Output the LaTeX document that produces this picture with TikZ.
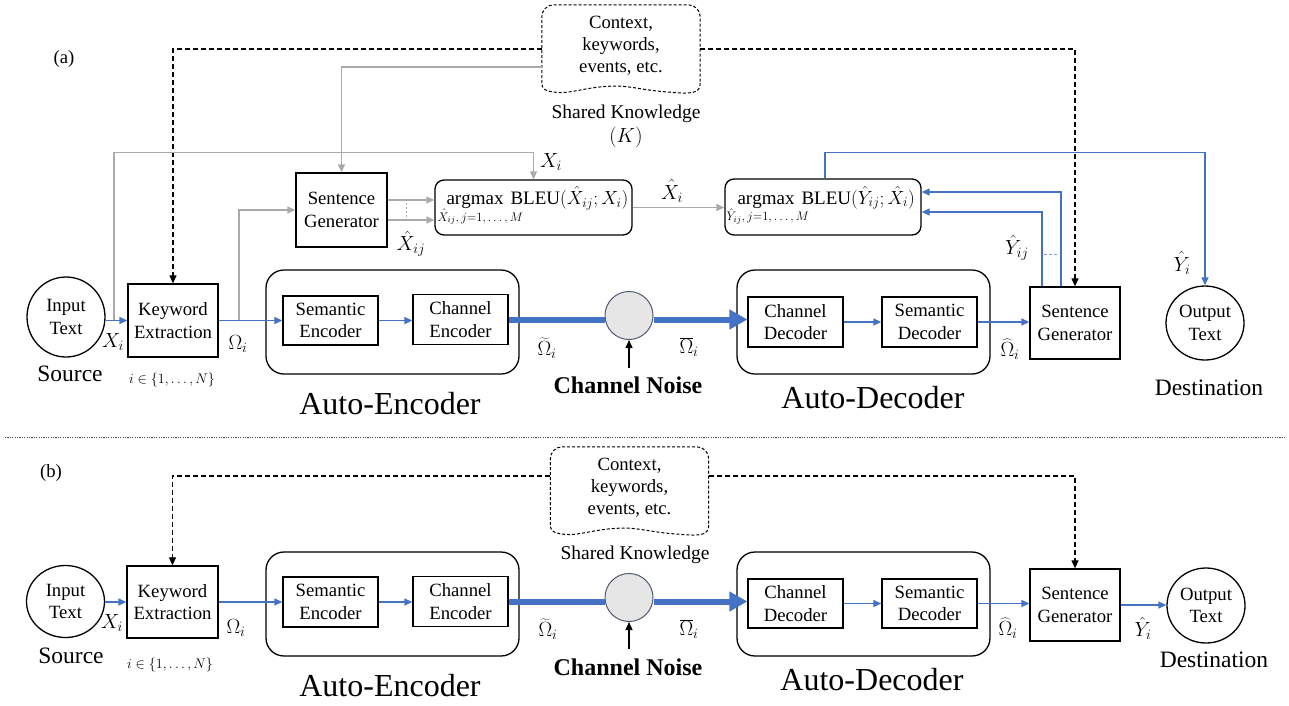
\RequirePackage{fix-cm}
\documentclass[tikz,border=0pt]{standalone}
\usepackage{fontspec}
\setmainfont{Liberation Serif}
\usetikzlibrary{arrows.meta,calc,shapes.geometric}
\definecolor{arrblue}{RGB}{68,114,196}
\definecolor{arrgray}{RGB}{170,170,170}
\definecolor{noisefill}{RGB}{230,230,230}
\definecolor{noisedraw}{RGB}{80,90,110}
\newcommand{\fs}[2]{\fontsize{#1}{#2}\selectfont}
\newcommand{\cloudpath}[1]{%
  \draw[cloudln, rounded corners=12pt] ($(#1.south west)+(0,-10)$) -- (#1.north west) -- (#1.north east) -- ($(#1.south east)+(0,-10)$);
  \draw[cloudln] ($(#1.south east)+(0,-10)$) .. controls ($(#1.south east)+(0,0)$) and ($(#1.south east)+(-8,1)$) .. ($(#1.south east)+(-30,-1)$)
     .. controls ($(#1.south east)+(-60,-3)$) and ($(#1.south east)+(-70,-8)$) .. ($(#1.south east)+(-90,-7)$)
     .. controls ($(#1.south west)+(43,-6)$) and ($(#1.south west)+(28,1)$) .. ($(#1.south west)+(13,-1)$)
     .. controls ($(#1.south west)+(3,-2)$) and ($(#1.south west)+(0,-5)$) .. ($(#1.south west)+(0,-10)$);}
\begin{document}
\begin{tikzpicture}[x=1pt,y=-1pt,
  box/.style={draw, line width=1.3pt, align=center, font=\fs{18.7}{22.5}, inner sep=0pt},
  bigbox/.style={draw, line width=1.3pt, rounded corners=18pt, inner sep=0pt},
  bleubox/.style={draw, line width=1.3pt, rounded corners=9pt, inner sep=0pt},
  txt/.style={font=\fs{18.7}{22.5}, inner sep=0pt, align=center},
  lbl/.style={font=\fs{20.5}{24}, inner sep=0pt},
  small/.style={font=\fs{14}{16}, inner sep=0pt},
  sub/.style={font=\fs{12.5}{14}, inner sep=0pt, anchor=base west},
  bleutxt/.style={font=\fs{19}{22}, inner sep=0pt, anchor=base west},
  big/.style={font=\fs{32}{36}, inner sep=0pt},
  place/.style={font=\fs{23.5}{27}, inner sep=0pt},
  noisetxt/.style={font=\fs{24}{28}\bfseries, inner sep=0pt},
  ell/.style={draw, ellipse, line width=1.3pt, inner sep=0pt, align=center, font=\fs{18.7}{22.5}},
  bl/.style={arrblue, line width=1.3pt, -{Triangle[length=8pt,width=7pt]}},
  gr/.style={arrgray, line width=1.3pt, -{Triangle[length=8pt,width=7pt]}},
  kd/.style={black, line width=1.2pt, dash pattern=on 5pt off 3pt, -{Triangle[length=8pt,width=7pt]}},
  thickline/.style={arrblue, line width=6pt},
  thickarr/.style={arrblue, line width=6pt, -{Triangle[length=18pt,width=19pt]}},
  noiseArr/.style={black, line width=1.3pt, -{Triangle[length=8pt,width=7pt]}},
  noise/.style={circle, draw=noisedraw, fill=noisefill, line width=1pt, minimum size=48pt, inner sep=0pt},
  cloudln/.style={black, line width=1pt, dash pattern=on 3pt off 2pt},
  cloudbox/.style={inner sep=0pt, minimum width=158pt, minimum height=88pt},
  sep/.style={black!70, line width=0.8pt, dash pattern=on 1.2pt off 1.2pt}
]
\useasboundingbox (0,0) rectangle (1289,705);

% ================= (a) =================
\node[txt] (labA) at (64,59) {(a)};

\node[cloudbox] (kbA) at (621,49) {};
\cloudpath{kbA}
\node[txt, font=\fs{18.7}{22}] (kbAt) at (621,46) {Context,\\keywords,\\events, etc.};
\node[txt, font=\fs{19.5}{23}] (skA) at (626,114) {Shared Knowledge};
\node[lbl] (kA) at (626,137) {$(K)$};

\node[ell, minimum width=78pt, minimum height=80pt] (inA) at (66,317) {Input\\Text};
\node[box, minimum width=90pt, minimum height=73pt] (keA) at (173,320.5) {Keyword\\Extraction};
\node[box, minimum width=91pt, minimum height=74pt] (sgA1) at (341.5,210) {Sentence\\Generator};
\node[bleubox, minimum width=197pt, minimum height=55pt] (bleu1) at (533.5,207.5) {};
\node[bleubox, minimum width=196pt, minimum height=56pt] (bleu2) at (823,207) {};
\node[bleutxt] (b1t) at ($(bleu1.west)+(12,-3)$) {$\mathrm{argmax}\hspace{7pt}\mathrm{BLEU}(\hat{X}_{ij};X_i)$};
\node[sub] (b1s) at ($(bleu1.west)+(3,13.5)$) {$\hat{X}_{ij},j{=}1,\dots,M$};
\node[bleutxt] (b2t) at ($(bleu2.west)+(13,-3)$) {$\mathrm{argmax}\hspace{7pt}\mathrm{BLEU}(\hat{Y}_{ij};\hat{X}_i)$};
\node[sub] (b2s) at ($(bleu2.west)+(2,13.5)$) {$\hat{Y}_{ij},j{=}1,\dots,M$};

\node[bigbox, minimum width=253pt, minimum height=104pt] (aeA) at (392.5,322) {};
\node[box, minimum width=95pt, minimum height=49pt] (seA) at (330.5,320.5) {Semantic\\Encoder};
\node[box, minimum width=95pt, minimum height=50pt] (ceA) at (460.5,319.5) {Channel\\Encoder};
\node[noise] (chA) at (629,315.5) {};
\node[bigbox, minimum width=253pt, minimum height=104pt] (adA) at (863.5,322) {};
\node[box, minimum width=95pt, minimum height=50pt] (cdA) at (795.5,322) {Channel\\Decoder};
\node[box, minimum width=95pt, minimum height=50pt] (sdA) at (929.5,322) {Semantic\\Decoder};
\node[box, minimum width=90pt, minimum height=72pt] (sgA2) at (1075,323) {Sentence\\Generator};
\node[ell, minimum width=78pt, minimum height=74pt] (outA) at (1205,323) {Output\\Text};

% connectors (a)
\draw[kd] (kbA.west) -| (keA.north);
\draw[kd] (kbA.east) -| (sgA2.north);
\draw[gr] ($(kbA.west)+(0,18)$) -| (sgA1.north);
\coordinate (tapX) at (114,320.5);
\draw[gr] (tapX) |- ($(bleu1.north)+(0,-27)$) -- (bleu1.north);
\coordinate (tapO) at (239,320.5);
\draw[gr] (tapO) |- (sgA1.west);
\coordinate (g1) at ($(sgA1.east)+(0,-10)$);
\coordinate (g2) at ($(sgA1.east)+(0,10)$);
\draw[gr] (g1) -- (g1 -| bleu1.west);
\draw[gr] (g2) -- (g2 -| bleu1.west);
\draw[arrgray, line width=1pt, dash pattern=on 2pt off 2pt] (406,203) -- (406,217);
\draw[gr] (bleu1.east) -- (bleu1.east -| bleu2.west);
\draw[bl] ($(bleu2.north)+(2,0)$) -- ++(0,-26) -| (outA.north);
\coordinate (y1) at ($(sgA2.north)+(-14,0)$);
\coordinate (y2) at ($(sgA2.north)+(-33,0)$);
\draw[bl] (y1) |- ($(bleu2.east)+(0,-15)$);
\draw[bl] (y2) |- ($(bleu2.east)+(0,5)$);
\draw[arrblue!70, line width=1pt, dash pattern=on 3pt off 2pt] (1044,254) -- (1057,254);

\draw[bl] (keA.west -| inA.east) -- (keA.west);
\draw[bl] (keA.east) -- (keA.east -| seA.west);
\draw[bl] (seA.east) -- (seA.east -| ceA.west);
\draw[thickline] (ceA.east) -- (ceA.east -| chA.west);
\draw[thickarr] (ceA.east -| chA.east) -- (ceA.east -| cdA.west);
\draw[bl] (cdA.east) -- (cdA.east -| sdA.west);
\draw[bl] (sdA.east) -- (sdA.east -| sgA2.west);
\coordinate (nzA) at (629,368);
\draw[noiseArr] (nzA) -- (chA.south);

% labels (a)
\node[lbl] (lXiA) at (113,342) {$X_i$};
\node[lbl] (lOmA) at (238,344) {$\Omega_i$};
\node[small] (lNA) at (172,380) {$i\in\{1,\dots,N\}$};
\node[place] (srcA) at (70,374) {Source};
\node[place] (dstA) at (1209,388) {Destination};
\node[lbl] (lOtA) at (547,348) {$\widetilde{\Omega}_i$};
\node[lbl] (lObA) at (689,347) {$\overline{\Omega}_i$};
\node[lbl] (lOhA) at (1010,349) {$\widehat{\Omega}_i$};
\node[lbl] (lYij) at (1017,248) {$\hat{Y}_{ij}$};
\node[lbl] (lYiA) at (1182,263) {$\hat{Y}_i$};
\node[lbl] (lXij) at (411,244) {$\hat{X}_{ij}$};
\node[lbl] (lXh) at (672,191) {$\hat{X}_i$};
\node[lbl] (lXi2) at (551,162) {$X_i$};
\node[big] (aeAt) at (390,404) {Auto-Encoder};
\node[big] (adAt) at (873,398) {Auto-Decoder};
\node[noisetxt] (cnA) at (628,385) {Channel Noise};

% separator
\coordinate (sepL) at (5,437);
\coordinate (sepR) at (1285,437);
\draw[sep] (sepL) -- (sepR);

% ================= (b) =================
\node[txt] (labB) at (51,473) {(b)};

\node[cloudbox] (kbB) at (629.5,491) {};
\cloudpath{kbB}
\node[txt, font=\fs{18.7}{22}] (kbBt) at (629.5,487.5) {Context,\\keywords,\\events, etc.};
\node[txt, font=\fs{19.5}{23}] (skB) at (635,555) {Shared Knowledge};

\node[ell, minimum width=78pt, minimum height=72pt] (inB) at (65.5,601.5) {Input\\Text};
\node[box, minimum width=91pt, minimum height=72pt] (keB) at (172.5,602) {Keyword\\Extraction};
\node[bigbox, minimum width=253pt, minimum height=104pt] (aeB) at (392.5,604) {};
\node[box, minimum width=95pt, minimum height=50pt] (seB) at (330.5,602) {Semantic\\Encoder};
\node[box, minimum width=95pt, minimum height=50pt] (ceB) at (460.5,601.5) {Channel\\Encoder};
\node[noise] (chB) at (629,597.5) {};
\node[bigbox, minimum width=253pt, minimum height=104pt] (adB) at (863.5,604) {};
\node[box, minimum width=95pt, minimum height=49pt] (cdB) at (795.5,603.5) {Channel\\Decoder};
\node[box, minimum width=95pt, minimum height=49pt] (sdB) at (929.5,603.5) {Semantic\\Decoder};
\node[box, minimum width=90pt, minimum height=72pt] (sgB) at (1075,605) {Sentence\\Generator};
\node[ell, minimum width=78pt, minimum height=75pt] (outB) at (1206,605.5) {Output\\Text};

% connectors (b)
\draw[kd] ($(kbB.west)+(0,-15)$) -| (keB.north);
\draw[kd] ($(kbB.east)+(0,-15)$) -| (sgB.north);
\draw[bl] (keB.west -| inB.east) -- (keB.west);
\draw[bl] (keB.east) -- (keB.east -| seB.west);
\draw[bl] (seB.east) -- (seB.east -| ceB.west);
\draw[thickline] (ceB.east) -- (ceB.east -| chB.west);
\draw[thickarr] (ceB.east -| chB.east) -- (ceB.east -| cdB.west);
\draw[bl] (cdB.east) -- (cdB.east -| sdB.west);
\draw[bl] (sdB.east) -- (sdB.east -| sgB.west);
\draw[bl] (sgB.east) -- (sgB.east -| outB.west);
\coordinate (nzB) at (629,649);
\draw[noiseArr] (nzB) -- (chB.south);

% labels (b)
\node[lbl] (lXiB) at (112,623) {$X_i$};
\node[lbl] (lOmB) at (236,628) {$\Omega_i$};
\node[small] (lNB) at (170,665) {$i\in\{1,\dots,N\}$};
\node[place] (srcB) at (71,656) {Source};
\node[place] (dstB) at (1214,660) {Destination};
\node[lbl] (lOtB) at (548,629) {$\widetilde{\Omega}_i$};
\node[lbl] (lObB) at (689,629) {$\overline{\Omega}_i$};
\node[lbl] (lOhB) at (1008,628) {$\widehat{\Omega}_i$};
\node[lbl] (lYiB) at (1143,628) {$\hat{Y}_i$};
\node[big] (aeBt) at (390,686) {Auto-Encoder};
\node[big] (adBt) at (872,680) {Auto-Decoder};
\node[noisetxt] (cnB) at (628,667) {Channel Noise};
\end{tikzpicture}
\end{document}
